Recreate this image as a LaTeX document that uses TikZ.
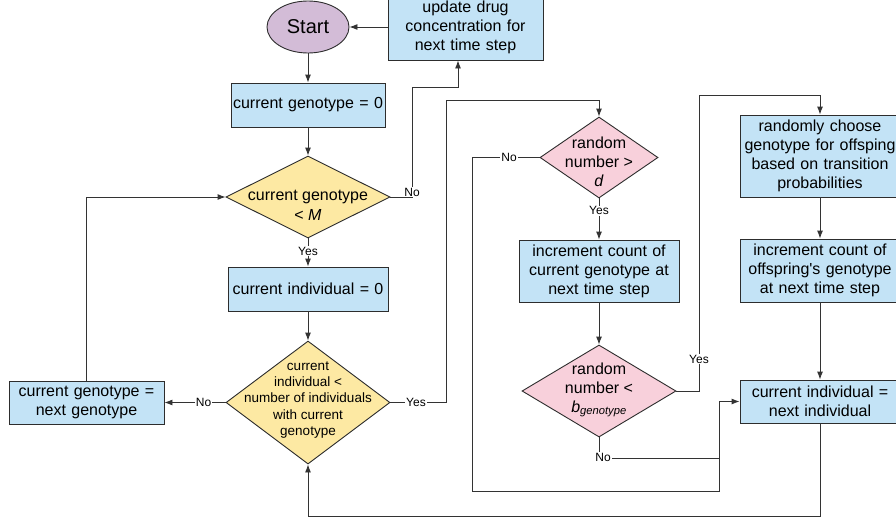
\documentclass[tikz,border=0pt]{standalone}
\usepackage{fontspec}
\setmainfont{Liberation Sans}
\usetikzlibrary{shapes.geometric,arrows.meta}
\definecolor{boxblue}{HTML}{C3E3F6}
\definecolor{diayel}{HTML}{FDE9A3}
\definecolor{diapink}{HTML}{F8D0DB}
\definecolor{startpur}{HTML}{D3BCD7}
\definecolor{edge}{HTML}{2D2D2D}
\definecolor{linec}{HTML}{333333}
\begin{document}
\begin{tikzpicture}[x=1pt,y=-1pt,
  procbox/.style={draw=edge,fill=boxblue,line width=0.9pt,align=center,inner sep=0pt,
    font=\fontsize{16}{19}\selectfont},
  decide/.style={diamond,draw=edge,line width=0.9pt,inner sep=0pt},
  dtext/.style={align=center,inner sep=0pt,font=\fontsize{16}{20}\selectfont},
  conn/.style={draw=linec,line width=0.9pt},
  arr/.style={conn,-{Latex[length=8pt,width=6pt]}},
  lbl/.style={fill=white,inner sep=1pt,font=\fontsize{12}{14}\selectfont}]
\useasboundingbox (0,0) rectangle (896,525);
\fill[white] (0,0) rectangle (896,525);

% nodes
\node[ellipse,draw=edge,fill=startpur,line width=0.9pt,minimum width=82pt,minimum height=52pt,inner sep=0pt,
  font=\fontsize{20}{24}\selectfont] (start) at (308,27) {Start};
\node[procbox,minimum width=155pt,minimum height=66pt,text width=150pt] (upd) at (465.5,27)
  {update drug\\concentration for\\next time step};
\node[procbox,minimum width=154pt,minimum height=44pt,text width=150pt] (cg0) at (308,105) {current genotype = 0};
\node[decide,fill=diayel,minimum width=164pt,minimum height=82pt] (d1) at (308,197) {};
\node[dtext] at (308,205) {current genotype\\< \textit{M}};
\node[procbox,minimum width=160pt,minimum height=44pt,text width=156pt] (ci0) at (308,289) {current individual = 0};
\node[decide,fill=diayel,minimum width=164pt,minimum height=123pt] (d2) at (308,402.5) {};
\node[dtext,font=\fontsize{13.5}{16.3}\selectfont] at (308,400) {current\\individual <\\number of individuals\\with current\\genotype};
\node[procbox,minimum width=155pt,minimum height=43pt,text width=150pt] (cgn) at (86.5,402.5) {current genotype =\\next genotype};
\node[decide,fill=diapink,minimum width=118pt,minimum height=81pt] (d3) at (599,157.5) {};
\node[dtext,font=\fontsize{16}{19}\selectfont] at (599,162) {random\\number >\\\textit{d}};
\node[procbox,minimum width=160pt,minimum height=62pt,text width=156pt] (inc1) at (599,271) {increment count of\\current genotype at\\next time step};
\node[decide,fill=diapink,minimum width=154pt,minimum height=92pt] (d4) at (599,391) {};
\node[dtext,font=\fontsize{16}{19}\selectfont] at (599,390) {random\\number <\\\textit{b}\textsubscript{\textit{genotype}}};
\node[procbox,minimum width=160pt,minimum height=82pt,text width=158pt] (rnd) at (820,156) {randomly choose\\genotype for offsping\\based on transition\\probabilities};
\node[procbox,minimum width=160pt,minimum height=63pt,text width=158pt] (inc2) at (820,270.5) {increment count of\\offspring\textquotesingle s genotype\\at next time step};
\node[procbox,minimum width=160pt,minimum height=43pt,text width=158pt] (cin) at (820,401.5) {current individual =\\next individual};

% coordinates
\coordinate (n1) at (412,87);
\coordinate (n2) at (458,87);
\coordinate (y1) at (446,100);
\coordinate (no3) at (472,491);
\coordinate (j1) at (719,491);
\coordinate (no4) at (719,458);
\coordinate (y4) at (699,95);
\coordinate (lp) at (308,516);

% connectors
\draw[arr] (start.south) -- (cg0.north);
\draw[arr] (upd.west) -- (start.east);
\draw[arr] (cg0.south) -- (d1.north);
\draw[arr] (d1.east) -| (n1) -- (n2) -- (n2 |- upd.south);
\node[lbl] at (412,192) {No};
\draw[arr] (d1.south) -- node[lbl,pos=0.45] {Yes} (ci0.north);
\draw[arr] (ci0.south) -- (d2.north);
\draw[arr] (d2.west) -- node[lbl,pos=0.36] {No} (cgn.east);
\draw[arr] (cgn.north) |- (d1.west);
\draw[arr] (d2.east) -| (y1) -| (d3.north);
\node[lbl] at (416,402) {Yes};
\draw[arr] (d3.west) -| (no3) -- (j1) |- (cin.west);
\node[lbl] at (509,157) {No};
\draw[arr] (d3.south) -- node[lbl,pos=0.3] {Yes} (inc1.north);
\draw[arr] (inc1.south) -- (d4.north);
\draw[arr] (d4.east) -| (y4) -| (rnd.north);
\node[lbl] at (699,359) {Yes};
\draw[conn] (d4.south) |- (no4);
\node[lbl] at (603,457) {No};
\draw[arr] (rnd.south) -- (inc2.north);
\draw[arr] (inc2.south) -- (cin.north);
\draw[arr] (cin.south) |- (lp) -- (d2.south);
\end{tikzpicture}
\end{document}
